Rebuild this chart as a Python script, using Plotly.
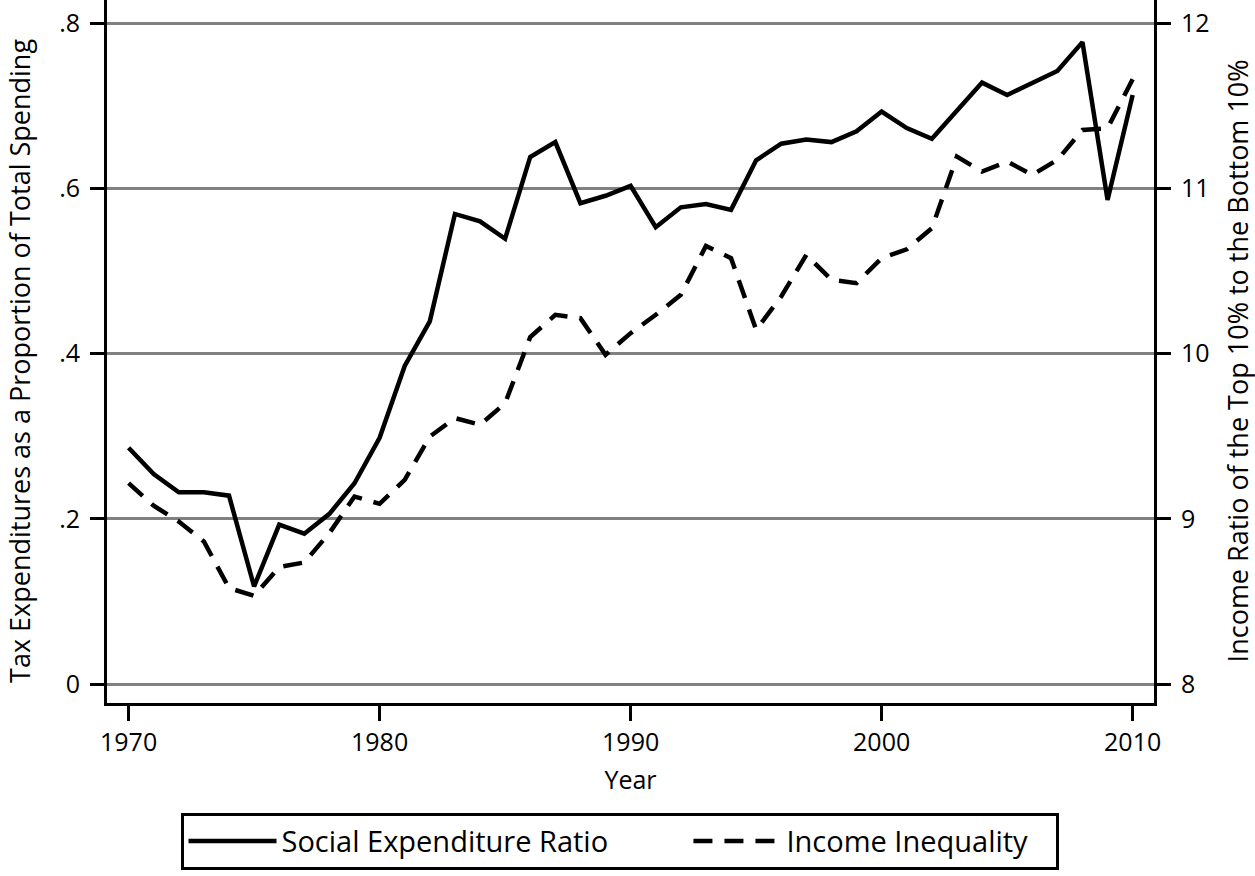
import plotly.graph_objects as go

years = list(range(1970, 2011))
social_expenditure_ratio = [
    0.286, 0.254, 0.232, 0.232, 0.228, 0.118, 0.193, 0.182, 0.206, 0.243,
    0.298, 0.385, 0.439, 0.569, 0.560, 0.539, 0.638, 0.656, 0.582, 0.591,
    0.603, 0.553, 0.577, 0.581, 0.574, 0.634, 0.654, 0.659, 0.656, 0.669,
    0.693, 0.673, 0.660, 0.695, 0.728, 0.713, 0.728, 0.742, 0.777, 0.586,
    0.713,
]
income_inequality = [
    9.216, 9.079, 8.984, 8.863, 8.581, 8.534, 8.708, 8.736, 8.914, 9.135,
    9.091, 9.236, 9.498, 9.610, 9.569, 9.700, 10.100, 10.235, 10.215, 9.993,
    10.124, 10.235, 10.356, 10.652, 10.578, 10.144, 10.346, 10.598, 10.447, 10.427,
    10.578, 10.632, 10.759, 11.193, 11.102, 11.163, 11.082, 11.173, 11.354, 11.365,
    11.661,
]
left_ticks = [0, 0.2, 0.4, 0.6, 0.8]
left_tick_text = ["0", ".2", ".4", ".6", ".8"]
right_ticks = [8, 9, 10, 11, 12]
x_ticks = [1970, 1980, 1990, 2000, 2010]

left_title = "Tax Expenditures as a Proportion of Total Spending"
right_title = "Income Ratio of the Top 10% to the Bottom 10%"
x_title = "Year"
series_names = ["Social Expenditure Ratio", "Income Inequality"]

FONT = "Open Sans"
TICKFONT = dict(family=FONT, size=25, color="black")
TITLEFONT = dict(family=FONT, size=27, color="black")
NB = "\u00a0"

fig = go.Figure()
fig.add_trace(go.Scatter(
    x=years, y=social_expenditure_ratio, mode="lines",
    name=series_names[0] + NB * 10,
    line=dict(color="black", width=4.5),
    yaxis="y",
))
fig.add_trace(go.Scatter(
    x=years, y=income_inequality, mode="lines",
    name=series_names[1] + NB * 3,
    line=dict(color="black", width=4.5, dash="19px,12px"),
    yaxis="y2",
))

fig.update_layout(
    width=1255, height=876,
    margin=dict(l=107, r=101, t=0, b=173, autoexpand=False),
    paper_bgcolor="white", plot_bgcolor="white",
    font=dict(family=FONT, size=25, color="black"),
    xaxis=dict(
        range=[1969.14, 2010.85], tickvals=x_ticks,
        showline=True, linecolor="black", linewidth=3,
        ticks="outside", ticklen=15, tickwidth=3, tickcolor="black",
        showgrid=False, zeroline=False, automargin=False,
        title=dict(text=x_title, font=dict(family=FONT, size=25, color="black")),
        tickfont=TICKFONT,
    ),
    yaxis=dict(
        range=[-0.023, 0.828], tickvals=left_ticks, ticktext=left_tick_text,
        showline=True, linecolor="black", linewidth=3,
        ticks="outside", ticklen=14, tickwidth=3, tickcolor="black",
        ticklabelstandoff=5,
        showgrid=True, gridcolor="#808080", gridwidth=3, zeroline=False,
        automargin=False,
        tickfont=TICKFONT,
    ),
    yaxis2=dict(
        range=[7.885, 12.141], tickvals=right_ticks,
        overlaying="y", side="right",
        showline=True, linecolor="black", linewidth=3,
        ticks="outside", ticklen=14, tickwidth=3, tickcolor="black",
        ticklabelstandoff=5,
        showgrid=False, zeroline=False, automargin=False,
        tickfont=TICKFONT,
    ),
    legend=dict(
        orientation="h", x=0.4895, xanchor="center", y=-0.156, yanchor="top",
        bordercolor="black", borderwidth=3, bgcolor="white",
        font=dict(family=FONT, size=29, color="black"), itemwidth=88,
    ),
    annotations=[
        dict(text=left_title, xref="paper", yref="paper", x=-0.0838, y=0.487,
             xanchor="center", yanchor="middle", textangle=-90,
             showarrow=False, font=TITLEFONT),
        dict(text=right_title, xref="paper", yref="paper", x=1.0800, y=0.487,
             xanchor="center", yanchor="middle", textangle=-90,
             showarrow=False, font=TITLEFONT),
    ],
)

fig.write_html("out.html", post_script="document.body.style.margin='0px';",
               config={"displayModeBar": False})
